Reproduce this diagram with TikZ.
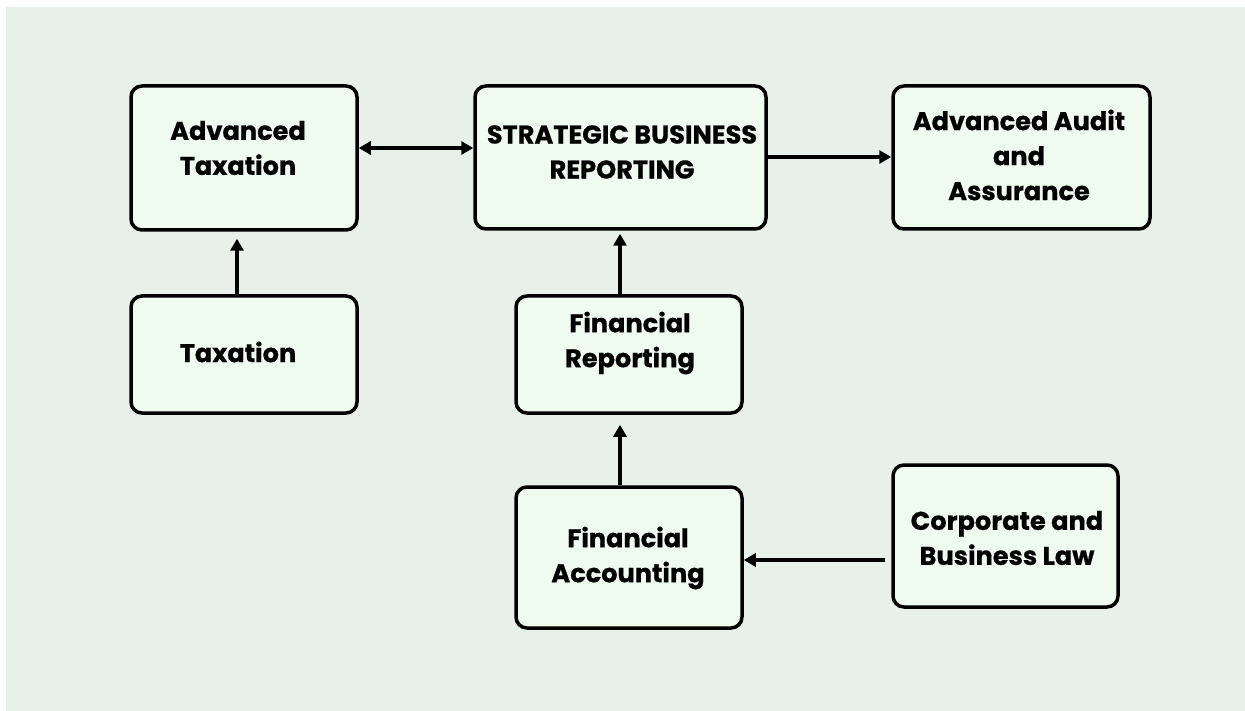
\documentclass[tikz,border=0pt]{standalone}
\usepackage{fontspec}
\setmainfont{Poppins}[BoldFont={* Bold}, BoldFeatures={FakeBold=0.7}]
\usetikzlibrary{arrows.meta}
\definecolor{bgc}{RGB}{232,240,234}
\definecolor{boxc}{RGB}{240,251,240}
\tikzset{
  x=1pt, y=-1pt,
  box/.style={draw=black, line width=3.5pt, rounded corners=11pt, fill=boxc, inner sep=0pt},
  lbl/.style={align=center, inner sep=0pt, font=\fontsize{25.6}{35}\selectfont\bfseries, text=black},
  tip/.style={Triangle[length=12pt,width=13pt]},
  conn/.style={line width=3.5pt, -{Triangle[length=12pt,width=13pt]}},
}
\begin{document}
\begin{tikzpicture}
\useasboundingbox (0,0) rectangle (1245,711);
\fill[white] (0,0) rectangle (1245,711);
\fill[bgc] (6,7) rectangle (1245,711);

% boxes
\node[box, minimum width=226pt, minimum height=144pt] (at) at (244,158) {};
\node[box, minimum width=291pt, minimum height=143pt] (sbr) at (620.5,157.5) {};
\node[box, minimum width=257pt, minimum height=143pt] (aaa) at (1021.5,157.5) {};
\node[box, minimum width=226pt, minimum height=117pt] (tax) at (244,354.5) {};
\node[box, minimum width=226pt, minimum height=117pt] (fr) at (629,354.5) {};
\node[box, minimum width=226pt, minimum height=141pt] (fa) at (629,557.5) {};
\node[box, minimum width=225pt, minimum height=142pt] (cbl) at (1005.5,536) {};

% labels
\node[lbl] (att) at (238,148) {Advanced\\Taxation};
\node[lbl] (sbrt) at (622,152) {STRATEGIC BUSINESS\\REPORTING};
\node[lbl] (aaat) at (1019,155) {Advanced Audit\\and\\Assurance};
\node[lbl] (taxt) at (238,352) {Taxation};
\node[lbl] (frt) at (630,343) {Financial\\Reporting};
\node[lbl] (fat) at (628,558) {Financial\\Accounting};
\node[lbl] (cblt) at (1007,538) {Corporate and\\Business Law};

% connectors
\draw[line width=3.5pt, {Triangle[length=12pt,width=13pt]}-{Triangle[length=12pt,width=13pt]}]
  (at.east |- 0,148) -- (sbr.west |- 0,148);
\draw[conn] (sbr.east |- 0,157) -- (aaa.west |- 0,157);
\draw[conn] (tax.north -| 237,0) -- ([yshift=-7pt]at.south -| 237,0);
\draw[conn] (fr.north -| 620,0) -- ([yshift=-3pt]sbr.south -| 620,0);
\draw[conn] (fa.north -| 620,0) -- ([yshift=-10pt]fr.south -| 620,0);
\draw[conn] ([xshift=-6pt]cbl.west |- 0,560) -- (fa.east |- 0,560);
\end{tikzpicture}
\end{document}
